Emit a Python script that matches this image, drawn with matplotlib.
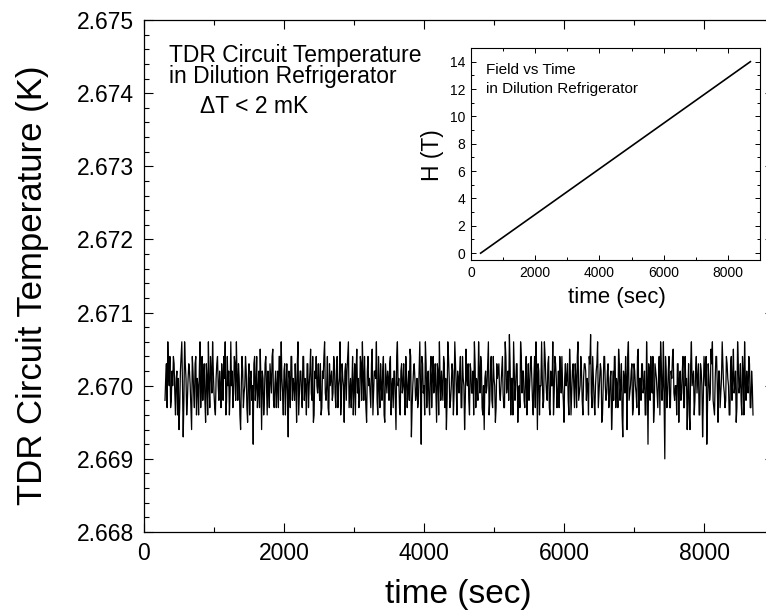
import numpy as np
import matplotlib
matplotlib.use('Agg')
import matplotlib.pyplot as plt
from matplotlib.ticker import MultipleLocator, FormatStrFormatter

plt.rcParams['font.family'] = ['Liberation Sans', 'DejaVu Sans']

# temperature readings, offset from 2.6700 K in units of 0.1 mK
# samples on the even 20 s grid starting at 300 s ...
t_start = 300
t_step = 20
temp_base = 2.6700
temp_offset = [
    -2, 3, 6, 0, -3, 2, 4, -1, 1, -4, -6, 2, 6, -7, 6, 1, -2, 3, 0, -6,
    2, -3, 4, 1, -4, 6, 0, -2, 3, -5, 1, 6, -3, 2, 6, -1, -4, 3, 0, 2,
    -3, 1, 4, 6, -2, 0, -4, 6, 2, -1, 3, 6, -2, 1, -6, 4, -3, 0, 2, -5,
    3, 1, -2, -8, 4, 0, -3, 2, 5, -6, 1, -2, 4, -4, 0, 3, -1, 5, -3, 2,
    0, -3, 4, 6, -1, 2, -4, 3, -7, 1, 4, -2, 0, 3, -5, 6, -1, 2, -3, 4,
    1, -4, 3, 0, 5, -2, -5, 2, 4, -1, 0, 3, -3, 1, 6, -2, 4, -4, 0, 2,
    -1, 3, -3, 4, 0, 6, -2, 1, -5, 3, 2, 6, -1, -3, 4, 0, -4, 5, 1, -2,
    3, 6, -2, 0, -5, 4, 1, -3, 5, -1, 2, 6, -4, 0, 3, -2, 4, -5, 1, 2,
    -2, 4, 0, -3, 2, -6, 6, 1, -4, 3, 0, -1, 4, -3, 2, 5, -7, 0, 3, -2,
    1, -2, 6, -8, 3, 0, 6, -3, 2, -4, 4, 1, -1, 3, -5, 2, 6, -2, 0, 4,
    -3, -6, 6, 1, -2, 3, -4, 6, 0, 2, -1, 4, -3, 1, -6, 5, 0, -2, 3, -1,
    2, 6, -3, 0, 6, -1, 3, -4, -6, 2, 0, 6, -2, 4, -3, 1, -5, 3, 2, -1,
    0, 4, -3, 6, -1, 2, 7, -4, 1, 6, -2, 3, -5, 0, 6, -1, 2, -3, 4, 0,
    -2, 3, 1, -4, 4, 6, -6, 2, 0, 6, -3, 6, 1, -2, 4, -4, 0, 6, -1, 3,
    -3, 2, 4, -1, 0, -5, 3, 1, -2, 5, -4, 2, 0, 3, -3, 6, -1, 4, -2, 1,
    3, -2, 0, 4, 7, -3, 1, -4, 2, 6, -1, 3, -5, 0, 4, -2, 2, -3, 1, -6,
    2, 4, -3, 0, 5, -2, 3, -7, 1, 4, -6, 6, -1, 2, -4, 3, 0, -3, 5, 1,
    -2, 3, 0, -4, 6, -8, 2, 4, -1, -5, 3, 1, -3, 4, 6, -2, 6, -10, 2, -1,
    4, -3, 1, 5, -2, 0, 3, -5, 2, -1, 4, -3, 0, -6, 3, -6, 6, 1, -4, 2,
    -1, 3, -4, 2, -7, 4, 0, -8, 3, -2, 5, 6, -3, 1, 4, -5, 2, -1, 6, 0,
    -3, 4, 1, -4, 3, -2, 5, 0, -5, 6, -1, 3, -4, 2, 6, -2, 0, 4, -3, 2, -4,
]
# ... and the readings taken halfway between them (310 s, 330 s, ...)
temp_offset_mid = [
    1, -3, 2, 4, -2, 0, 3, -4, 2, 1, -3, 4, 0, -2, 3, -4, 1, 2, -3, 4,
    -1, 3, -4, 0, 2, -3, 4, 1, -2, 3, -4, 0, 4, -1, 2, -3, 1, 4, -2, 0,
    3, -2, 1, -4, 4, 2, -1, 0, -3, 4, -2, 1, 3, -4, 0, 2, -1, 4, -3, 1,
    -4, 2, 0, 3, -2, 4, -1, -3, 1, 2, -4, 3, 0, 2, -3, 1, 4, -2, 0, -3,
    2, 4, -2, 1, -4, 3, 0, -1, 2, -3, 4, 1, -2, 0, 3, -4, 2, -1, 4, -2,
    0, 3, -3, 2, -1, 4, -4, 1, 0, 3, -2, -4, 2, 4, -1, 0, -3, 3, 1, -2,
    4, -1, 2, -3, 1, -4, 3, 0, 2, -2, 4, -3, 1, 0, -4, 3, 2, -1, -3, 4,
    -2, 1, 4, -3, 2, 0, -1, 3, -4, 2, 1, -2, 4, -3, 0, 2, -4, 3, -1, 1,
    3, -4, 1, 2, -2, 4, 0, -3, 2, -1, 3, -4, 1, 0, -2, 4, -3, 2, 1, -1,
    -3, 2, 0, 4, -1, -4, 3, 1, -2, 2, -3, 4, 0, -1, 3, -4, 1, 2, -2, 3,
    1, -2, 4, -3, 0, 2, -1, 3, -4, 1, 2, -3, 4, 0, -2, 1, 3, -4, 2, -1,
    -4, 3, 1, -2, 2, 4, -3, 0, 1, -1, 3, -4, 2, -2, 4, 0, -3, 1, 3, -2,
    2, -1, -3, 4, 0, -2, 3, 1, -4, 2, 0, 3, -1, -3, 4, 2, -2, 1, -4, 3,
    0, 4, -2, 1, -3, 2, 3, -4, 0, 1, -2, 4, -1, 3, -3, 2, 0, -4, 4, 1,
    -1, -3, 2, 4, -2, 1, 0, 3, -4, 2, -1, 3, -3, 1, 4, -2, 0, 2, -4, 3,
    2, 1, -4, 3, -1, 4, -2, 0, 3, -3, 1, 2, -4, 4, 0, -1, 3, -2, 2, -3,
    -2, 4, 1, -3, 3, 0, -4, 2, -1, 1, 4, -2, 0, 3, -3, 2, -1, 4, -4, 1,
    3, -1, 2, -4, 1, 3, -2, 0, 4, -3, 2, -1, 1, -4, 3, 0, -2, 4, -3, 2,
    -3, 2, 4, -1, 0, -4, 3, 1, -2, 2, -3, 4, 1, -1, -4, 3, 0, 2, -2, 4,
    1, -4, 3, 0, -2, 2, 4, -3, 1, -1, 3, -2, -4, 4, 0, 2, -3, 1, 3, -1,
    -2, 3, 0, -4, 4, 1, -1, 2, -3, 3, 0, -2, 4, -4, 1, 2, -1, 3, -3, 0,
]

# field ramp (inset)
field_time = [300, 8700]
field_H = [0, 14]

offs = np.empty(len(temp_offset) + len(temp_offset_mid))
offs[0::2] = temp_offset
offs[1::2] = temp_offset_mid
time = t_start + (t_step / 2) * np.arange(len(offs))
temp = temp_base + offs * 1e-4

W, H = 766, 616
fig = plt.figure(figsize=(W / 100, H / 100), dpi=100)


def frac(l, t, r, b):
    return [l / W, 1 - b / H, (r - l) / W, (b - t) / H]


# main plot
ax = fig.add_axes(frac(144, 20, 774, 532))
ax.plot(time, temp, color='black', lw=0.9)
ax.set_xlim(0, 9000)
ax.set_ylim(2.668, 2.675)
ax.xaxis.set_major_locator(MultipleLocator(2000))
ax.xaxis.set_minor_locator(MultipleLocator(1000))
ax.yaxis.set_major_locator(MultipleLocator(0.001))
ax.yaxis.set_minor_locator(MultipleLocator(0.0002))
ax.yaxis.set_major_formatter(FormatStrFormatter('%.3f'))
ax.tick_params(which='both', direction='in', top=True, right=True, width=0.8)
ax.tick_params(which='major', length=6.5, labelsize=16.5, pad=7)
ax.tick_params(which='minor', length=3.6)
for s in ax.spines.values():
    s.set_linewidth(0.9)
fig.text(33 / W, 1 - 285 / H, 'TDR Circuit Temperature (K)', rotation=90,
         fontsize=25, ha='center', va='center')
fig.text(458 / W, 1 - 595 / H, 'time (sec)', fontsize=24, ha='center', va='center')

fig.text(169 / W, 1 - 62 / H, 'TDR Circuit Temperature', fontsize=16.5, va='baseline')
fig.text(169 / W, 1 - 83 / H, 'in Dilution Refrigerator', fontsize=16.5, va='baseline')
fig.text(200 / W, 1 - 113 / H, '\u0394T < 2 mK', fontsize=16.5, va='baseline')

# inset
ins = fig.add_axes(frac(471, 48, 760, 260))
ins.plot(field_time, field_H, color='black', lw=1.2)
ins.set_xlim(0, 9000)
ins.set_ylim(-0.5, 15)
ins.xaxis.set_major_locator(MultipleLocator(2000))
ins.xaxis.set_minor_locator(MultipleLocator(1000))
ins.yaxis.set_major_locator(MultipleLocator(2))
ins.yaxis.set_minor_locator(MultipleLocator(1))
ins.tick_params(which='both', direction='in', top=True, right=True, width=0.7)
ins.tick_params(which='major', length=3.5, labelsize=10, pad=4)
ins.tick_params(which='minor', length=2)
for s in ins.spines.values():
    s.set_linewidth(0.8)
fig.text(433 / W, 1 - 155 / H, 'H (T)', rotation=90, fontsize=16.5,
         ha='center', va='center')
fig.text(617 / W, 1 - 297 / H, 'time (sec)', fontsize=16, ha='center', va='center')
fig.text(486 / W, 1 - 74 / H, 'Field vs Time', fontsize=11, va='baseline')
fig.text(486 / W, 1 - 93 / H, 'in Dilution Refrigerator', fontsize=11, va='baseline')

plt.savefig('out.png', dpi=100)
